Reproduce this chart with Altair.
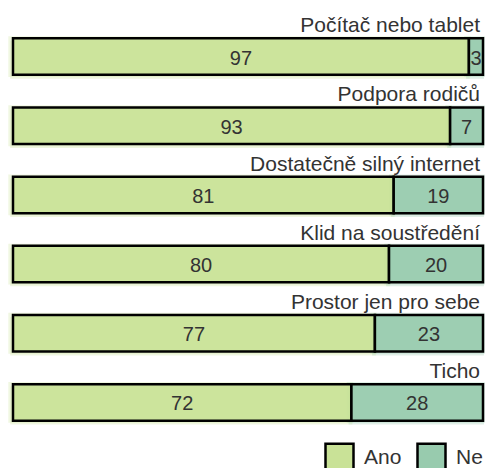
import altair as alt
import pandas as pd

categories = ["Počítač nebo tablet", "Podpora rodičů", "Dostatečně silný internet",
              "Klid na soustředění", "Prostor jen pro sebe", "Ticho"]
ano = [97, 93, 81, 80, 77, 72]
ne = [3, 7, 19, 20, 23, 28]
groups = ["Ano", "Ne"]
colors = ["#c9e297", "#98cbae"]

rows = []
for c, a, n in zip(categories, ano, ne):
    rows.append(dict(cat=c, group="Ano", value=a, start=0, end=a, mid=a / 2))
    rows.append(dict(cat=c, group="Ne", value=n, start=a, end=a + n, mid=a + n / 2))
df = pd.DataFrame(rows)
lab = pd.DataFrame({"cat": categories, "pos": [100] * len(categories)})

FONT = "Liberation Sans"
TXT = "#333333"

yenc = alt.Y("cat:N", sort=categories, axis=None,
             scale=alt.Scale(paddingInner=0.473, paddingOuter=0.2365))
xscale = alt.Scale(domain=[0, 100], nice=False, zero=True, clamp=False)
color = alt.Color("group:N", scale=alt.Scale(domain=groups, range=colors),
                  legend=alt.Legend(title=None, orient="none", legendX=311, legendY=420,
                                    direction="horizontal", symbolType="square",
                                    symbolSize=784, symbolStrokeColor="black",
                                    symbolStrokeWidth=2.5, symbolOpacity=1,
                                    labelFontSize=21, labelFont=FONT, labelColor=TXT,
                                    labelOffset=9, columnPadding=10, padding=0))

base = alt.Chart(df)

# soft "sketchy" glow around each segment
halo1 = base.transform_calculate(
    hs="datum.start - 1", he="datum.end + 0.4"
).mark_bar(opacity=0.28, height={"band": 1.12}).encode(
    x=alt.X("hs:Q", axis=None, scale=xscale), x2="he:Q", y=yenc, color=color)
halo2 = base.transform_calculate(
    hs="datum.start - 0.6", he="datum.end + 0.2"
).mark_bar(opacity=0.3, yOffset=3, height={"band": 1.05}).encode(
    x=alt.X("hs:Q", axis=None, scale=xscale), x2="he:Q", y=yenc, color=color)

bars = base.mark_bar(stroke="black", strokeWidth=2.5, fillOpacity=0.9).encode(
    x=alt.X("start:Q", axis=None, scale=xscale), x2="end:Q", y=yenc, color=color)

vals = base.mark_text(fontSize=20, font=FONT, color=TXT, baseline="middle", dy=2).encode(
    x=alt.X("mid:Q", scale=xscale), y=yenc, text="value:Q")

labels = alt.Chart(lab).mark_text(fontSize=21, font=FONT, color=TXT, align="right",
                                  baseline="alphabetic", dx=-3, dy=-24.4).encode(
    x=alt.X("pos:Q", scale=xscale), y=yenc, text="cat:N")

chart = alt.layer(halo1, halo2, bars, vals, labels).properties(
    width=470, height=415,
    padding={"left": 5, "top": 14, "right": 2, "bottom": 40},
    autosize=alt.AutoSizeParams(type="none"),
).configure_view(stroke=None)

chart.save("out.html", embed_options={"renderer": "svg", "actions": False})
